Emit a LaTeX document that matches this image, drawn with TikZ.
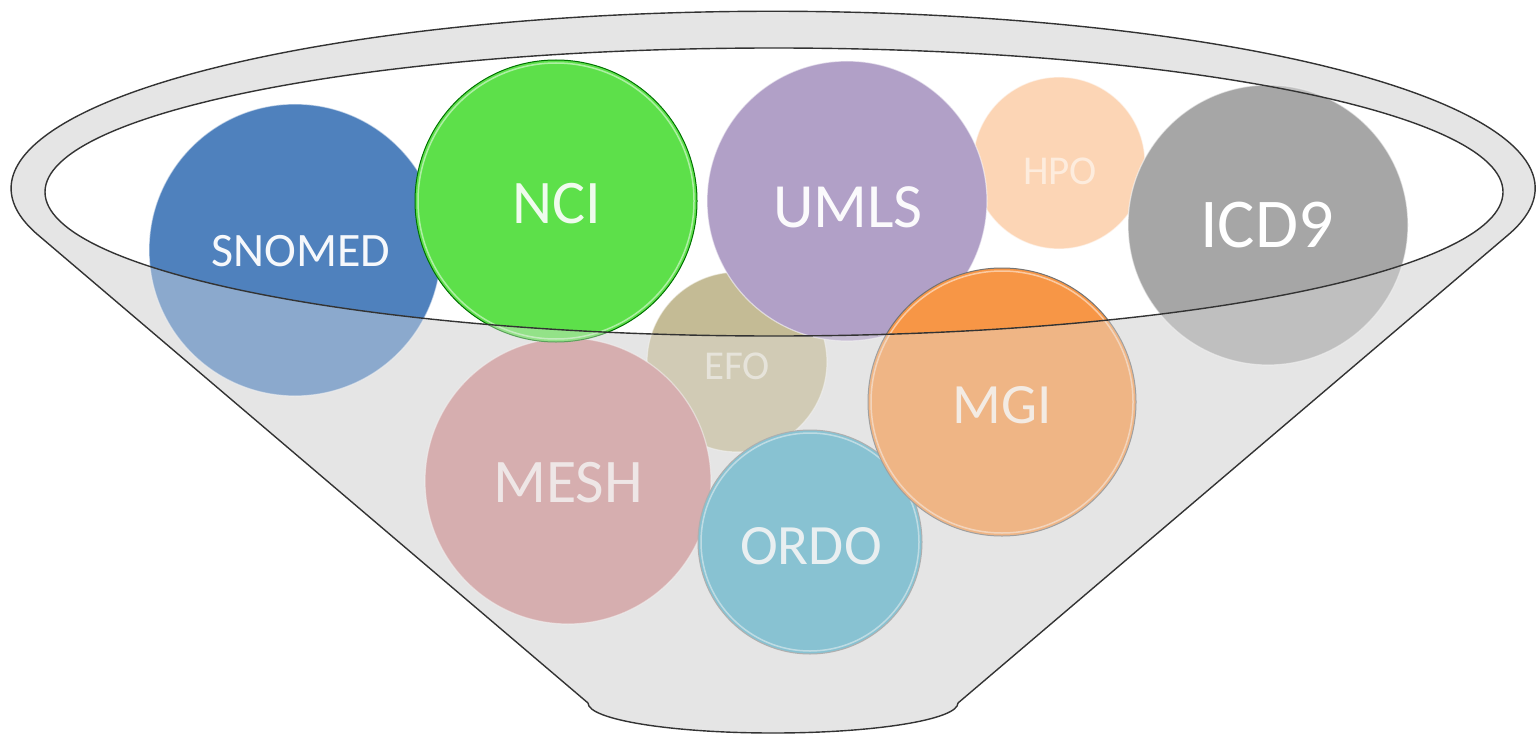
\documentclass[tikz,border=0pt]{standalone}
\usepackage{fontspec}
\setmainfont{Carlito}
\definecolor{bowl}{HTML}{E5E5E5}
\definecolor{rimline}{HTML}{333333}
\definecolor{snomedC}{HTML}{4F81BD}
\definecolor{nciC}{HTML}{5DE04A}
\definecolor{umlsC}{HTML}{B1A0C7}
\definecolor{hpoC}{HTML}{FCD5B5}
\definecolor{icdC}{HTML}{A6A6A6}
\definecolor{efoC}{HTML}{C4BB95}
\definecolor{meshC}{HTML}{CC8A8B}
\definecolor{ordoC}{HTML}{4BACC6}
\definecolor{mgiC}{HTML}{F79646}
\begin{document}
\begin{tikzpicture}[x=1bp,y=-1bp,
  bubble/.style={circle,inner sep=0pt,outer sep=0pt,minimum size=#1,
    draw=white,draw opacity=0.55,line width=1.2bp},
  ringed/.style={draw=#1,draw opacity=1,line width=1bp},
  lbl/.style={text=white,inner sep=0pt,outer sep=0pt,
    font=\fontsize{#1}{#1}\selectfont},
  rim/.style={draw=rimline,line width=1.4bp}]
\useasboundingbox (0,0) rectangle (1537,735);

% bowl body
\fill[bowl] (1508,235) arc[start angle=15.3,end angle=-195.3,x radius=762,y radius=177]
  -- (588,703) arc[start angle=180,end angle=0,x radius=185,y radius=30] -- cycle;
% opening
\fill[white] (774,192) ellipse[x radius=729,y radius=144];

% bubbles
\node[bubble=292bp,fill=snomedC] (snomed) at (295,250) {};
\node[lbl=48bp,text opacity=0.95] (snomedt) at (301,251) {SNOMED};
\node[bubble=172bp,fill=hpoC] (hpo) at (1059,163) {};
\node[lbl=41bp,text opacity=0.55] (hpot) at (1060,171) {HPO};
\node[bubble=180bp,fill=efoC] (efo) at (737,362) {};
\node[lbl=41bp,text opacity=0.6] (efot) at (737,366) {EFO};
\node[bubble=286bp,fill=meshC] (mesh) at (568,481) {};
\node[lbl=62bp,text opacity=0.8] (mesht) at (568,483) {MESH};
\node[bubble=282bp,fill=nciC,ringed=green!45!black] (nci) at (556,201) {};
\draw[white,opacity=0.5,line width=1.5bp] (nci.center) circle[radius=138];
\node[lbl=62bp,text opacity=0.9] (ncit) at (557,204) {NCI};
\node[bubble=280bp,fill=umlsC] (umls) at (847,201) {};
\node[lbl=63bp,text opacity=0.95] (umlst) at (848,207) {UMLS};
\node[bubble=280bp,fill=icdC] (icd) at (1268,225) {};
\node[lbl=70bp] (icdt) at (1267,225) {ICD9};
\node[bubble=224bp,fill=ordoC,ringed=black!45] (ordo) at (810,542) {};
\draw[white,opacity=0.5,line width=1.5bp] (ordo.center) circle[radius=109];
\node[lbl=57bp,text opacity=0.9] (ordot) at (811,546) {ORDO};
\node[bubble=268bp,fill=mgiC,ringed=black!55] (mgi) at (1002,402) {};
\draw[white,opacity=0.5,line width=1.5bp] (mgi.center) circle[radius=131];
\node[lbl=57bp,text opacity=0.85] (mgit) at (1002,405) {MGI};

% front wall of the bowl, washing out what lies below the rim
\fill[bowl,fill opacity=0.4,even odd rule]
  (1508,235) arc[start angle=15.3,end angle=-195.3,x radius=762,y radius=177]
  -- (588,703) arc[start angle=180,end angle=0,x radius=185,y radius=30] -- cycle
  (774,192) ellipse[x radius=729,y radius=144];

% outlines
\draw[rim] (1508,235) arc[start angle=15.3,end angle=-195.3,x radius=762,y radius=177]
  -- (588,703) arc[start angle=180,end angle=0,x radius=185,y radius=30] -- cycle;
\draw[rim] (774,192) ellipse[x radius=729,y radius=144];
\end{tikzpicture}
\end{document}
